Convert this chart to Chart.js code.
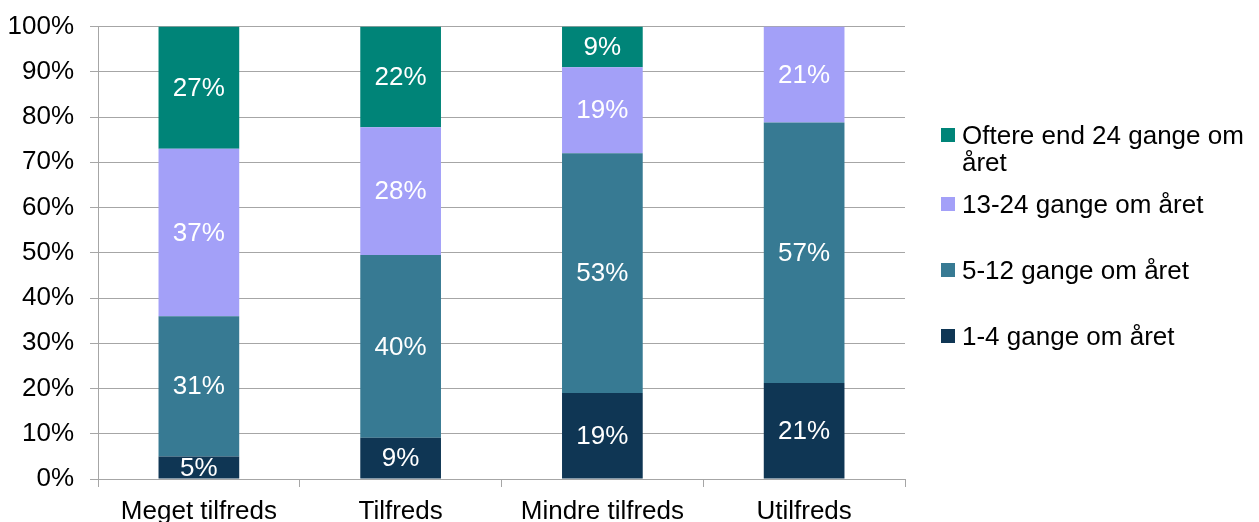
<!DOCTYPE html>
<html>
<head>
<meta charset="utf-8">
<script src="https://cdn.jsdelivr.net/npm/chart.js@4.4.0/dist/chart.umd.min.js"></script>
<style>
	html, body { margin: 0; padding: 0; background: #fff; }
	#wrap { position: relative; width: 1259px; height: 522px; overflow: hidden; }
	#chart-area { position: absolute; left: 0; top: -5px; }
	#legend { position: absolute; left: 941px; top: 0; font-family: "Liberation Sans", Arial, sans-serif; font-size: 26px; color: #000; }
	.item { position: absolute; left: 0; width: 318px; line-height: 27px; }
	.item span.box { position: absolute; left: 0; width: 14px; height: 14px; }
	.item span.txt { display: block; margin-left: 21px; width: 297px; }
</style>
</head>
<body>
<div id="wrap">
	<canvas id="chart-area" width="1259" height="527"></canvas>
	<div id="legend"></div>
</div>
<script>
	// data (percent of answers)
	var categories = ['Meget tilfreds', 'Tilfreds', 'Mindre tilfreds', 'Utilfreds'];
	var seriesNames = ['1-4 gange om året', '5-12 gange om året', '13-24 gange om året', 'Oftere end 24 gange om året'];
	var gange1til4 = [5, 9, 19, 21];
	var gange5til12 = [31, 40, 53, 57];
	var gange13til24 = [37, 28, 19, 21];
	var oftere24 = [27, 22, 9, 0];
	var yTicks = [0, 10, 20, 30, 40, 50, 60, 70, 80, 90, 100];

	var colors = ['#0F3654', '#377A93', '#A3A0F8', '#008478'];
	var fontName = '"Liberation Sans", Arial, sans-serif';

	init();

	function init () {
		var raw = [gange1til4, gange5til12, gange13til24, oftere24];
		// 100% stacked: scale each column so it sums to 100
		var totals = categories.map(function (c, i) {
			return raw.reduce(function (s, arr) { return s + arr[i]; }, 0);
		});
		var datasets = raw.map(function (arr, k) {
			return {
				label: seriesNames[k],
				data: arr.map(function (v, i) { return v / totals[i] * 100; }),
				raw: arr,
				backgroundColor: colors[k],
				borderWidth: 0,
				barPercentage: 0.4,
				categoryPercentage: 1
			};
		});
		barChart(datasets);
		legend();
	}

	function barChart (datasets) {
		var labelPlugin = {
			id: 'segLabels',
			afterDatasetsDraw: function (chart) {
				var ctx = chart.ctx;
				ctx.save();
				ctx.font = '26px ' + fontName;
				ctx.fillStyle = '#fff';
				ctx.textAlign = 'center';
				ctx.textBaseline = 'middle';
				chart.data.datasets.forEach(function (ds, k) {
					var meta = chart.getDatasetMeta(k);
					meta.data.forEach(function (bar, i) {
						var v = ds.raw[i];
						if (!v) return;
						var mid = (bar.y + bar.base) / 2;
						ctx.fillText(v + '%', bar.x, mid + 1);
					});
				});
				ctx.restore();
			}
		};

		var config = {
			type: 'bar',
			data: { labels: categories, datasets: datasets },
			options: {
				responsive: false,
				animation: false,
				layout: { padding: { top: 18, right: 354, left: 0, bottom: 0 } },
				plugins: { legend: { display: false }, tooltip: { enabled: false } },
				scales: {
					x: {
						stacked: true,
						grid: { display: true, drawOnChartArea: false, offset: true, tickLength: 8, color: '#a6a6a6' },
						border: { color: '#a6a6a6' },
						ticks: { color: '#000', font: { family: fontName, size: 26 }, padding: 9, maxRotation: 0 },
						afterFit: function (s) { s.height = 43; }
					},
					y: {
						stacked: true,
						min: 0,
						max: 100,
						afterBuildTicks: function (s) { s.ticks = yTicks.map(function (v) { return { value: v }; }); },
						grid: { color: '#a6a6a6', tickLength: 8 },
						border: { color: '#a6a6a6' },
						ticks: {
							color: '#000',
							font: { family: fontName, size: 26 },
							padding: 16,
							callback: function (v) { return v + '%'; }
						},
						afterFit: function (s) { s.width = 98; }
					}
				}
			},
			plugins: [labelPlugin]
		};
		var ctx = document.getElementById('chart-area').getContext('2d');
		window.myBar = new Chart(ctx, config);
	}

	function legend () {
		// legend lists the series top to bottom in reverse order, like the stack
		var tops = [122, 191, 257, 323];
		var box = document.getElementById('legend');
		for (var n = 0; n < 4; n++) {
			var k = 3 - n;
			var item = document.createElement('div');
			item.className = 'item';
			item.style.top = tops[n] + 'px';
			item.innerHTML = '<span class="box" style="top:6px;background:' + colors[k] + '"></span><span class="txt">' + seriesNames[k] + '</span>';
			box.appendChild(item);
		}
	}
</script>
</body>
</html>
